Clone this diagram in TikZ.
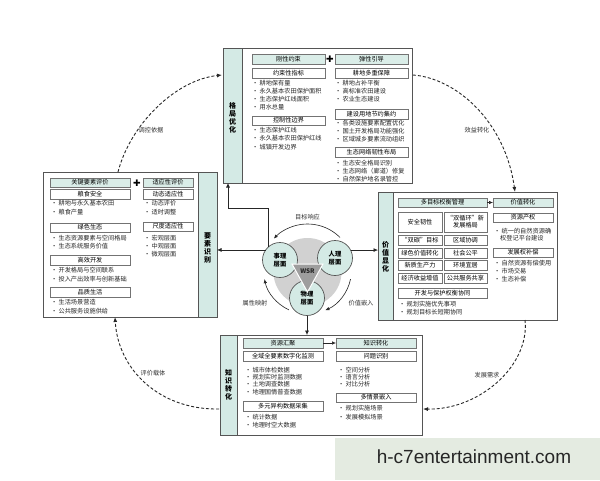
\documentclass[tikz,border=0pt]{standalone}
\usepackage{fontspec}
\setmainfont{Noto Sans CJK SC}
\newfontfamily\wmfont{Liberation Sans}
\newfontfamily\djv{DejaVu Sans}
\usetikzlibrary{arrows.meta,calc}
\definecolor{stripc}{HTML}{D4EAE5}
\definecolor{hdrc}{HTML}{DAEDE8}
\definecolor{linec}{HTML}{555555}
\definecolor{wmc}{HTML}{E4EBE1}
\newcommand\myfs{\fontsize{6.2}{7.2}\selectfont}
\newcounter{bc}
\newcommand\bl[3]{\stepcounter{bc}\node[bul] (b\arabic{bc}) at (#1,#2) {•\hspace{1.2pt}#3};}
\begin{document}
\begin{tikzpicture}[x=1pt,y=-1pt,
  outer/.style={draw=linec, line width=0.7pt, inner sep=0, outer sep=0, anchor=north west},
  strip/.style={draw=linec, line width=0.7pt, fill=stripc, inner sep=0, outer sep=0, anchor=north west},
  hdr/.style={draw=black!55, line width=0.5pt, fill=hdrc, inner sep=0, outer sep=0, minimum height=9.5pt, font=\myfs},
  sub/.style={draw=black!55, line width=0.5pt, fill=white, inner sep=0, outer sep=0, minimum height=9.5pt, font=\myfs},
  bul/.style={anchor=west, inner sep=0, font=\myfs, text=black!85},
  vlab/.style={font=\fontsize{7}{8}\selectfont\bfseries, align=center, inner sep=0},
  plus/.style={font=\djv\fontsize{9}{9}\selectfont, inner sep=0},
  circ/.style={circle, draw=linec, fill=stripc, minimum size=35pt, inner sep=0, outer sep=0, line width=0.7pt, font=\fontsize{6.3}{7.3}\selectfont\bfseries, align=center},
  arr/.style={-{Latex[length=4pt,width=3.5pt]}, draw=black!85, line width=0.6pt},
  conn/.style={-{Latex[length=4.5pt,width=4pt]}, draw=black!85, line width=0.7pt},
  dsh/.style={-{Latex[length=5pt,width=4pt]}, draw=black!85, line width=0.9pt, dash pattern=on 3pt off 2pt},
  lab/.style={font=\myfs, text=black!80, inner sep=1pt}]
\fill[white] (0,0) rectangle (600,480);
\useasboundingbox (0,0) rectangle (600,480);
% watermark
\node[anchor=north west, fill=wmc, minimum width=265pt, minimum height=42pt, inner sep=0] (wmbg) at (335,438) {};
\node[font=\wmfont\fontsize{19}{19}\selectfont, text=black!85] (wm) at (474,457) {h-c7entertainment.com};

% ===== top box =====
\node[outer, minimum width=189pt, minimum height=135pt] (top) at (223,48) {};
\node[strip, minimum width=19pt, minimum height=135pt] (tops) at (223,48) {};
\node[vlab] (topl) at (232.5,118) {格\\局\\优\\化};
\node[hdr, minimum width=73pt] (t1) at (288.5,59) {刚性约束};
\node[plus] (tp) at (330,59) {✚};
\node[hdr, minimum width=73pt] (t2) at (371.5,59) {弹性引导};
\node[sub, minimum width=73pt] (t3) at (288.5,73) {约束性指标};
\bl{252}{83}{耕地保有量}
\bl{252}{91}{永久基本农田保护面积}
\bl{252}{99}{生态保护红线面积}
\bl{252}{107}{用水总量}
\node[sub, minimum width=73pt] (t4) at (288.5,120.5) {控制性边界};
\bl{252}{130}{生态保护红线}
\bl{252}{138.5}{永久基本农田保护红线}
\bl{252}{147}{城镇开发边界}
\node[sub, minimum width=73pt] (t5) at (371.5,73) {耕地多重保障};
\bl{335}{83}{耕地占补平衡}
\bl{335}{91}{高标准农田建设}
\bl{335}{99}{农业生态建设}
\node[sub, minimum width=73pt] (t6) at (371.5,114) {建设用地节约集约};
\bl{335}{123}{各类设施要素配置优化}
\bl{335}{131}{国土开发格局功能强化}
\bl{335}{139}{区域城乡要素流动组织}
\node[sub, minimum width=73pt] (t7) at (371.5,152) {生态网络韧性布局};
\bl{335}{163}{生态安全格局识别}
\bl{335}{171}{生态网络（廊道）修复}
\bl{335}{179}{自然保护地名录管控}

% ===== left box =====
\node[outer, minimum width=174pt, minimum height=145pt] (lft) at (43,172) {};
\node[strip, minimum width=19pt, minimum height=145pt] (lfts) at (198,172) {};
\node[vlab] (lftl) at (207.5,248) {要\\素\\识\\别};
\node[hdr, minimum width=80pt] (l1) at (90,182.5) {关键要素评价};
\node[plus] (lp) at (137,183) {✚};
\node[hdr, minimum width=50pt] (l2) at (168,182.5) {适应性评价};
\node[sub, minimum width=80pt] (l3) at (90,194) {粮食安全};
\bl{51}{203}{耕地与永久基本农田}
\bl{51}{212.5}{粮食产量}
\node[sub, minimum width=80pt] (l4) at (90,227.5) {绿色生态};
\bl{51}{238}{生态资源要素与空间格局}
\bl{51}{246.5}{生态系统服务价值}
\node[sub, minimum width=80pt] (l5) at (90,260) {高效开发};
\bl{51}{270.5}{开发格局与空间联系}
\bl{51}{279}{投入产出效率与创新基础}
\node[sub, minimum width=80pt] (l6) at (90,292) {品质生活};
\bl{51}{302}{生活场景营造}
\bl{51}{311}{公共服务设施供给}
\node[sub, minimum width=50pt] (l7) at (168,194) {动态适应性};
\bl{144}{203}{动态评价}
\bl{144}{212.5}{适时调整}
\node[sub, minimum width=50pt] (l8) at (168,226.5) {尺度适应性};
\bl{144}{238}{宏观层面}
\bl{144}{246}{中观层面}
\bl{144}{254}{微观层面}

% ===== right box =====
\node[outer, minimum width=179pt, minimum height=128pt] (rgt) at (378,192) {};
\node[strip, minimum width=15pt, minimum height=128pt] (rgts) at (378,192) {};
\node[vlab] (rgtl) at (385.5,257) {价\\值\\显\\化};
\node[hdr, minimum width=89pt] (r1) at (442.5,202.5) {多目标权衡管理};
\node[hdr, minimum width=60pt] (r2) at (523,202.5) {价值转化};
\draw[arr] (r1) -- (r2);
\node[sub, minimum width=44pt, minimum height=20pt] (g1) at (420,222) {安全韧性};
\node[sub, minimum width=43pt, minimum height=20pt, align=center] (g2) at (465.5,222) {“双循环”新\\发展格局};
\node[sub, minimum width=44pt] (g3) at (420,240) {“双碳”目标};
\node[sub, minimum width=43pt] (g4) at (465.5,240) {区域协调};
\node[sub, minimum width=44pt] (g5) at (420,253) {绿色价值转化};
\node[sub, minimum width=43pt] (g6) at (465.5,253) {社会公平};
\node[sub, minimum width=44pt] (g7) at (420,265) {新质生产力};
\node[sub, minimum width=43pt] (g8) at (465.5,265) {环境宜居};
\node[sub, minimum width=44pt] (g9) at (420,278) {经济收益增值};
\node[sub, minimum width=43pt] (g10) at (465.5,278) {公共服务共享};
\node[sub, minimum width=89pt] (r3) at (442.5,293) {开发与保护权衡协同};
\bl{399}{304}{规划实施优先事项}
\bl{399}{312}{规划目标长短期协同}
\node[sub, minimum width=60pt] (r4) at (523,217.5) {资源产权};
\bl{494}{231}{统一的自然资源确}
\node[bul] (r4b) at (500,238) {权登记平台建设};
\node[sub, minimum width=60pt] (r5) at (523,252.5) {发展权补偿};
\bl{494}{263}{自然资源有偿使用}
\bl{494}{271}{市场交易}
\bl{494}{279}{生态补偿}

% ===== bottom box =====
\node[outer, minimum width=202pt, minimum height=100pt] (bot) at (220,335) {};
\node[strip, minimum width=17pt, minimum height=100pt] (bots) at (220,335) {};
\node[vlab] (botl) at (228.5,385) {知\\识\\转\\化};
\node[hdr, minimum width=80pt] (k1) at (283,343) {资源汇聚};
\node[hdr, minimum width=80pt] (k2) at (376,343) {知识转化};
\draw[arr] (k1) -- (k2);
\node[sub, minimum width=80pt] (k3) at (283,356) {全域全要素数字化监测};
\bl{245}{370}{城市体检数据}
\bl{245}{377}{规划实时监测数据}
\bl{245}{384.5}{土地调查数据}
\bl{245}{392}{地理国情普查数据}
\node[sub, minimum width=80pt] (k4) at (283,406) {多元异构数据采集};
\bl{245}{417}{统计数据}
\bl{245}{425}{地理时空大数据}
\node[sub, minimum width=80pt] (k5) at (376,356) {问题识别};
\bl{338}{370}{空间分析}
\bl{338}{377}{语言分析}
\bl{338}{384.5}{对比分析}
\node[sub, minimum width=80pt] (k6) at (376,397.5) {多情景嵌入};
\bl{338}{408}{规划实施场景}
\bl{338}{417}{发展模拟场景}

% ===== centre WSR =====
\coordinate (ctr) at (307.5,270);
\node[circle, fill=black!18, minimum size=68pt, inner sep=0] (bg) at (307.5,272) {};
\node[circ] (sl) at (280,260) {事理\\层面};
\node[circ] (rl) at (335,258) {人理\\层面};
\node[circ] (pl) at (307,298) {物理\\层面};
\draw[fill=black!38, draw=white, line width=1pt] (292,264) -- (323,264) -- (307.5,292) -- cycle;
\node[font=\fontsize{6.3}{7}\selectfont\bfseries, text=black!85] (wsr) at (307.5,271) {WSR};
\draw[arr] ($(ctr)+(-45:46)$) arc[start angle=-45, end angle=-137, radius=46];
\draw[arr] ($(ctr)+(115:44)$) arc[start angle=115, end angle=168, radius=44];
\draw[arr] ($(ctr)+(12:44)$) arc[start angle=12, end angle=66, radius=44];
\node[lab] (q1) at (307.5,217) {目标响应};
\node[lab] (q2) at (255,303) {属性映射};
\node[lab] (q3) at (361,303) {价值嵌入};

% connectors to boxes
\coordinate (c1) at (228,208);
\draw[conn] (sl.133) |- (c1) -- (c1 |- top.south);
\draw[conn] (sl.145) -- (sl.145 -| lfts.east);
\draw[conn] (rl.27) -- (rl.27 -| rgts.west);
\draw[conn] (pl.south) -- (pl.south |- bot.north);

% outer dashed cycle
\draw[dsh] ($(lft.north west)+(75,0)$) .. controls (130,125) and (175,80) .. ($(top.north west)+(-1,27)$);
\draw[dsh] ($(top.north east)+(1,27)$) .. controls (455,78) and (505,120) .. ($(rgt.north west)+(137,0)$);
\draw[dsh] ($(rgt.south west)+(147,0)$) .. controls (530,365) and (480,410) .. ($(bot.south east)+(1,-26)$);
\draw[dsh] ($(bot.south west)+(-1,-26)$) .. controls (160,410) and (118,370) .. ($(lft.south west)+(72,0)$);
\node[lab] (d1) at (151,130) {调控依据};
\node[lab] (d2) at (477,130) {效益转化};
\node[lab] (d3) at (487,375) {发展需求};
\node[lab] (d4) at (153,373) {评价载体};
\end{tikzpicture}
\end{document}
